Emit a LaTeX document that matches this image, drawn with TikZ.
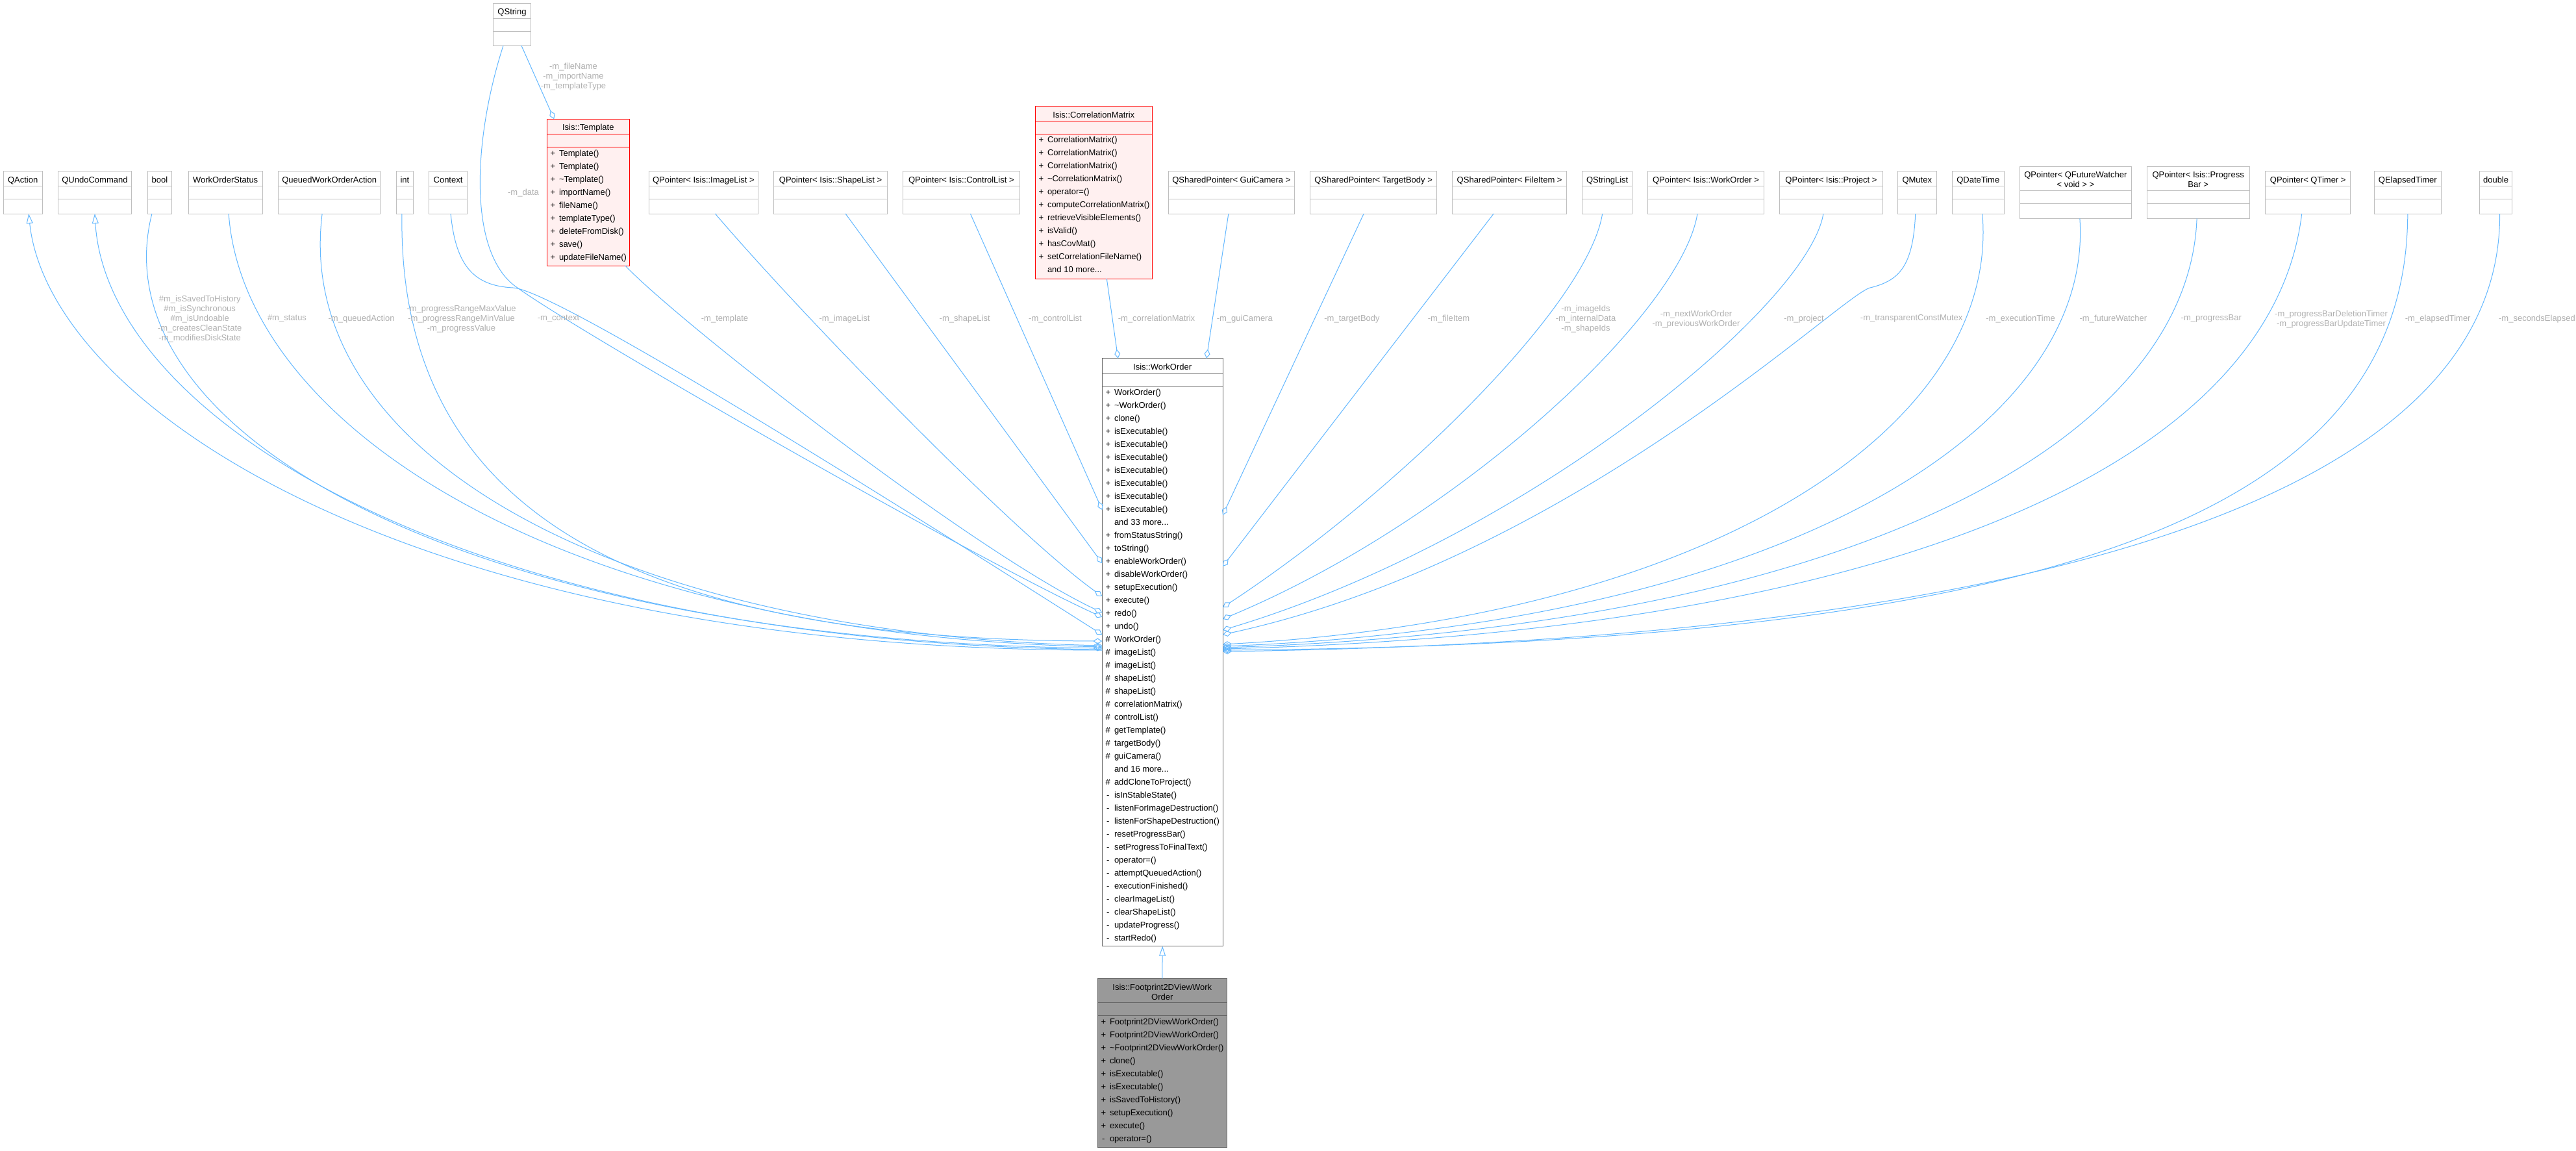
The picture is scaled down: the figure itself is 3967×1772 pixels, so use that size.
\documentclass[tikz,border=0pt]{standalone}
\usepackage{fontspec}
\setmainfont{Liberation Sans}
\usetikzlibrary{arrows.meta}

\definecolor{edgeblue}{HTML}{63B8FF}
\definecolor{boxgray}{HTML}{BFBFBF}
\definecolor{labelgray}{HTML}{B0B0B0}
\definecolor{hotred}{HTML}{FF0000}
\definecolor{hotfill}{HTML}{FFF0F0}
\definecolor{parentgray}{HTML}{666666}
\definecolor{leafgray}{HTML}{999999}

\newcommand{\dfont}{\fontsize{13}{15}\selectfont}
\newcommand{\threedots}{...}

% class box: name, style, left, top, right, rule 1, rule 2, bottom, title
\newcommand{\umlclass}[9]{%
  \pgfmathsetmacro{\clsw}{#5-#3}%
  \pgfmathsetmacro{\clsh}{#8-#4}%
  \node[#2, minimum width=\clsw pt, minimum height=\clsh pt, anchor=north west] (#1) at (#3,#4) {};
  \draw[#2rule] (#3,#6) -- (#5,#6) (#3,#7) -- (#5,#7);
  \node[clstitle] (#1-t) at ({(#3+#5)/2},{(#4+#6)/2+3}) {#9};
}

% member rows: prefix, left, rule 2, list of sign/name
\newcommand{\umlmembers}[4]{%
  \foreach \s/\m [count=\i from 0] in {#4} {
    \node[sign] (#1-s\i) at ({#2+9},{#3+10.5+20*\i}) {\s};
    \node[member] (#1-m\i) at ({#2+18.5},{#3+10.5+20*\i}) {\m};
  }}

\begin{document}
\begin{tikzpicture}[x=1pt, y=-1pt,
  cls/.style={draw=boxgray, fill=white, line width=1pt, inner sep=0pt, outer sep=0pt},
  clsrule/.style={draw=boxgray, line width=1pt},
  hot/.style={cls, draw=hotred, fill=hotfill},
  hotrule/.style={draw=hotred, line width=1pt},
  parentbox/.style={cls, draw=parentgray},
  parentboxrule/.style={draw=parentgray, line width=1pt},
  childbox/.style={cls, draw=parentgray, fill=leafgray},
  childboxrule/.style={draw=parentgray, line width=1pt},
  clstitle/.style={font=\dfont, inner sep=0pt, text height=9.5pt, text depth=3pt},
  clstitle2/.style={font=\dfont, inner sep=0pt, align=center},
  sign/.style={font=\dfont, inner sep=0pt, text height=9.5pt, text depth=3pt},
  member/.style={sign, anchor=west},
  role/.style={font=\dfont, text=labelgray, inner sep=0pt, align=center},
  agg/.style={draw=edgeblue, line width=1pt, -{Diamond[open, length=14pt, width=9pt]}},
  isa/.style={draw=edgeblue, line width=1pt, {Triangle[open, length=15pt, width=10pt]}-},
  isaend/.style={draw=edgeblue, line width=1pt, -{Triangle[open, length=15pt, width=10pt]}}]

\path[use as bounding box, fill=white] (0,0) rectangle (3967,1772);

% top row
\umlclass{qaction}{cls}{5}{263}{65.3}{286.5}{306}{329}{QAction}
\umlclass{qundo}{cls}{89.3}{263}{202.6}{286.5}{306}{329}{QUndoCommand}
\umlclass{boolc}{cls}{227.6}{263}{264.3}{286.5}{306}{329}{bool}
\umlclass{wostatus}{cls}{290.3}{263}{404}{286.5}{306}{329}{WorkOrderStatus}
\umlclass{queued}{cls}{428.6}{263}{585.7}{286.5}{306}{329}{QueuedWorkOrderAction}
\umlclass{intc}{cls}{610.2}{263}{636.7}{286.5}{306}{329}{int}
\umlclass{context}{cls}{660.7}{263}{719.4}{286.5}{306}{329}{Context}
\umlclass{qstring}{cls}{759.7}{5}{817.3}{28.3}{48.3}{70.3}{QString}
\umlclass{imglist}{cls}{999.5}{263}{1167.3}{286.5}{306}{329}{QPointer< Isis::ImageList >}
\umlclass{shplist}{cls}{1191.8}{263}{1366.3}{286.5}{306}{329}{QPointer< Isis::ShapeList >}
\umlclass{ctrllist}{cls}{1390.3}{263}{1570.4}{286.5}{306}{329}{QPointer< Isis::ControlList >}
\umlclass{guicam}{cls}{1799.1}{263}{1993.6}{286.5}{306}{329}{QSharedPointer< GuiCamera >}
\umlclass{tbody}{cls}{2017.9}{263}{2212.4}{286.5}{306}{329}{QSharedPointer< TargetBody >}
\umlclass{fitem}{cls}{2236.6}{263}{2412.7}{286.5}{306}{329}{QSharedPointer< FileItem >}
\umlclass{strlist}{cls}{2436.9}{263}{2513.4}{286.5}{306}{329}{QStringList}
\umlclass{ptrwo}{cls}{2537.7}{263}{2716.2}{286.5}{306}{329}{QPointer< Isis::WorkOrder >}
\umlclass{project}{cls}{2740.5}{263}{2899.3}{286.5}{306}{329}{QPointer< Isis::Project >}
\umlclass{qmutex}{cls}{2922.5}{263}{2982}{286.5}{306}{329}{QMutex}
\umlclass{qdatetime}{cls}{3006}{263}{3086.5}{286.5}{306}{329}{QDateTime}
\umlclass{futwatch}{cls}{3110.5}{256}{3282.2}{293.3}{313.7}{336.3}{}
\node[clstitle2] (futwatch-t2) at (3196.4,276.8) {QPointer< QFutureWatcher\\< void > >};
\umlclass{pbar}{cls}{3306.2}{256}{3464}{293.3}{313.7}{336.3}{}
\node[clstitle2] (pbar-t2) at (3385.1,276.8) {QPointer< Isis::Progress\\Bar >};
\umlclass{qtimer}{cls}{3488.8}{263}{3619.6}{286.5}{306}{329}{QPointer< QTimer >}
\umlclass{elapsed}{cls}{3656}{263}{3759.6}{286.5}{306}{329}{QElapsedTimer}
\umlclass{doublec}{cls}{3818.4}{263}{3868.7}{286.5}{306}{329}{double}

% classes with members
\umlclass{tmpl}{hot}{842.3}{183.3}{969.3}{206}{226.7}{409}{Isis::Template}
\umlmembers{tmpl}{842.3}{226.7}{+/Template(),+/Template(),+/\textasciitilde Template(),+/importName(),+/fileName(),+/templateType(),+/deleteFromDisk(),+/save(),+/updateFileName()}

\umlclass{corr}{hot}{1594.3}{163.7}{1774.3}{186}{206}{429}{Isis::CorrelationMatrix}
\umlmembers{corr}{1594.3}{206}{+/CorrelationMatrix(),+/CorrelationMatrix(),+/CorrelationMatrix(),+/\textasciitilde CorrelationMatrix(),+/operator=(),+/computeCorrelationMatrix(),+/retrieveVisibleElements(),+/isValid(),+/hasCovMat(),+/setCorrelationFileName(),{}/and 10 more\threedots}

\umlclass{wo}{parentbox}{1697.3}{551.7}{1883}{574.3}{594.3}{1456.7}{Isis::WorkOrder}
\umlmembers{wo}{1697.3}{594.3}{+/WorkOrder(),+/\textasciitilde WorkOrder(),+/clone(),+/isExecutable(),+/isExecutable(),+/isExecutable(),+/isExecutable(),+/isExecutable(),+/isExecutable(),+/isExecutable(),{}/and 33 more\threedots,+/fromStatusString(),+/toString(),+/enableWorkOrder(),+/disableWorkOrder(),+/setupExecution(),+/execute(),+/redo(),+/undo(),\#/WorkOrder(),\#/imageList(),\#/imageList(),\#/shapeList(),\#/shapeList(),\#/correlationMatrix(),\#/controlList(),\#/getTemplate(),\#/targetBody(),\#/guiCamera(),{}/and 16 more\threedots,\#/addCloneToProject(),-/isInStableState(),-/listenForImageDestruction(),-/listenForShapeDestruction(),-/resetProgressBar(),-/setProgressToFinalText(),-/operator=(),-/attemptQueuedAction(),-/executionFinished(),-/clearImageList(),-/clearShapeList(),-/updateProgress(),-/startRedo()}

\umlclass{fp}{childbox}{1690.3}{1506.7}{1889.3}{1543.7}{1563.7}{1766}{}
\node[clstitle2] (fp-t2) at (1789.8,1527) {Isis::Footprint2DViewWork\\Order};
\umlmembers{fp}{1690.3}{1563.7}{+/Footprint2DViewWorkOrder(),+/Footprint2DViewWorkOrder(),+/\textasciitilde Footprint2DViewWorkOrder(),+/clone(),+/isExecutable(),+/isExecutable(),+/isSavedToHistory(),+/setupExecution(),+/execute(),-/operator=()}

% ports on the work order box
\coordinate (woT1) at (1721.7,551.7);
\coordinate (woT2) at (1858,551.7);
\coordinate (woL1) at (1697.3,785);
\coordinate (woL2) at (1697.3,867);
\coordinate (woL3) at (1697.3,918);
\coordinate (woL4) at (1697.3,943);
\coordinate (woL5) at (1697.3,950);
\coordinate (woL6) at (1697.3,977);
\coordinate (woL7) at (1697.3,987);
\coordinate (woL8) at (1697.3,994);
\coordinate (woL9) at (1697.3,996);
\coordinate (woL10) at (1697.3,998);
\coordinate (woL11) at (1697.3,1000);
\coordinate (woL12) at (1697.3,1001);
\coordinate (woR1) at (1883,793);
\coordinate (woR2) at (1883,872);
\coordinate (woR3) at (1883,935);
\coordinate (woR4) at (1883,953);
\coordinate (woR5) at (1883,970);
\coordinate (woR6) at (1883,977);
\coordinate (woR7) at (1883,992);
\coordinate (woR8) at (1883,995);
\coordinate (woR9) at (1883,997);
\coordinate (woR10) at (1883,999);
\coordinate (woR11) at (1883,1001);
\coordinate (woR12) at (1883,1003);

% left side
\draw[isa] ([xshift=9pt]qaction.south) .. controls (75,620) and (620,1000) .. (woL12);
\draw[isa] (qundo.south) .. controls (165,640) and (700,990) .. (woL11);
\draw[agg] ([xshift=-12pt]boolc.south) .. controls (150,660) and (700,985) .. (woL10);
\draw[agg] ([xshift=5pt]wostatus.south) .. controls (375,650) and (850,975) .. (woL9);
\draw[agg] ([xshift=-11pt]queued.south) .. controls (450,700) and (950,975) .. (woL8);
\draw[agg] ([xshift=-4.5pt]intc.south) .. controls (612,800) and (1000,985) .. (woL7);
\draw[agg] ([xshift=4pt]context.south) .. controls (702,410) and (730,440) .. (790,443)
  .. controls (860,446) and (1450,820) .. (woL6);
\draw[agg] ([xshift=-13.5pt]qstring.south) .. controls (730,210) and (720,380) .. (790,438)
  .. controls (870,500) and (1500,860) .. (woL5);
\draw[agg] ([xshift=14.5pt]qstring.south) -- ([xshift=-52.5pt]tmpl.north);
\draw[agg] ([xshift=57pt]tmpl.south) .. controls (1050,500) and (1500,850) .. (woL4);
\draw[agg] ([xshift=18pt]imglist.south) .. controls (1230,480) and (1560,820) .. (woL3);
\draw[agg] ([xshift=23pt]shplist.south) -- (woL2);
\draw[agg] ([xshift=14pt]ctrllist.south) -- (woL1);
\draw[agg] ([xshift=20pt]corr.south) -- (woT1);

% right side
\draw[agg] ([xshift=-4.5pt]guicam.south) -- (woT2);
\draw[agg] ([xshift=-15pt]tbody.south) -- (woR1);
\draw[agg] ([xshift=-24.5pt]fitem.south) -- (woR2);
\draw[agg] ([xshift=-7.5pt]strlist.south) .. controls (2445,470) and (2150,760) .. (woR3);
\draw[agg] ([xshift=-13pt]ptrwo.south) .. controls (2590,480) and (2250,800) .. (woR4);
\draw[agg] ([xshift=-12pt]project.south) .. controls (2785,470) and (2350,830) .. (woR5);
\draw[agg] ([xshift=-2.5pt]qmutex.south) .. controls (2946,410) and (2925,432) .. (2880,443)
  .. controls (2835,454) and (2420,860) .. (woR6);
\draw[agg] ([xshift=6.5pt]qdatetime.south) .. controls (3080,650) and (2650,950) .. (woR7);
\draw[agg] ([xshift=6.5pt]futwatch.south) .. controls (3225,660) and (2750,960) .. (woR8);
\draw[agg] ([xshift=-2pt]pbar.south) .. controls (3370,680) and (2850,965) .. (woR9);
\draw[agg] ([xshift=-9.5pt]qtimer.south) .. controls (3500,700) and (2950,970) .. (woR10);
\draw[agg] (elapsed.south) .. controls (3706,780) and (3200,990) .. (woR11);
\draw[agg] ([xshift=6pt]doublec.south) .. controls (3852,760) and (3150,985) .. (woR12);

\draw[isaend] (fp.north) -- (wo.south);

% member names on the connectors
\node[role] (r-bool) at (307.7,490.7) {\#m\_isSavedToHistory\\\#m\_isSynchronous\\\#m\_isUndoable\\-m\_createsCleanState\\-m\_modifiesDiskState};
\node[role] (r-status) at (442,490.7) {\#m\_status};
\node[role] (r-queued) at (556.6,490.7) {-m\_queuedAction};
\node[role] (r-int) at (710.5,490.7) {-m\_progressRangeMaxValue\\-m\_progressRangeMinValue\\-m\_progressValue};
\node[role] (r-context) at (860,490.7) {-m\_context};
\node[role] (r-data) at (806,297) {-m\_data};
\node[role] (r-tmplstr) at (883,117.7) {-m\_fileName\\-m\_importName\\-m\_templateType};
\node[role] (r-tmpl) at (1116,490.7) {-m\_template};
\node[role] (r-img) at (1300.5,490.7) {-m\_imageList};
\node[role] (r-shp) at (1485.7,490.7) {-m\_shapeList};
\node[role] (r-ctrl) at (1625,490.7) {-m\_controlList};
\node[role] (r-corr) at (1781,490.7) {-m\_correlationMatrix};
\node[role] (r-cam) at (1916.8,490.7) {-m\_guiCamera};
\node[role] (r-body) at (2082,490.7) {-m\_targetBody};
\node[role] (r-item) at (2231,490.7) {-m\_fileItem};
\node[role] (r-ids) at (2442,490.7) {-m\_imageIds\\-m\_internalData\\-m\_shapeIds};
\node[role] (r-wo) at (2612,491.5) {-m\_nextWorkOrder\\-m\_previousWorkOrder};
\node[role] (r-proj) at (2778,490.7) {-m\_project};
\node[role] (r-mutex) at (2943.7,490.7) {-m\_transparentConstMutex};
\node[role] (r-time) at (3111.6,490.7) {-m\_executionTime};
\node[role] (r-watch) at (3254.4,490.7) {-m\_futureWatcher};
\node[role] (r-bar) at (3405.3,490.7) {-m\_progressBar};
\node[role] (r-timer) at (3590,491.5) {-m\_progressBarDeletionTimer\\-m\_progressBarUpdateTimer};
\node[role] (r-elapsed) at (3754.2,490.7) {-m\_elapsedTimer};
\node[role] (r-secs) at (3907,490.7) {-m\_secondsElapsed};
\end{tikzpicture}
\end{document}
